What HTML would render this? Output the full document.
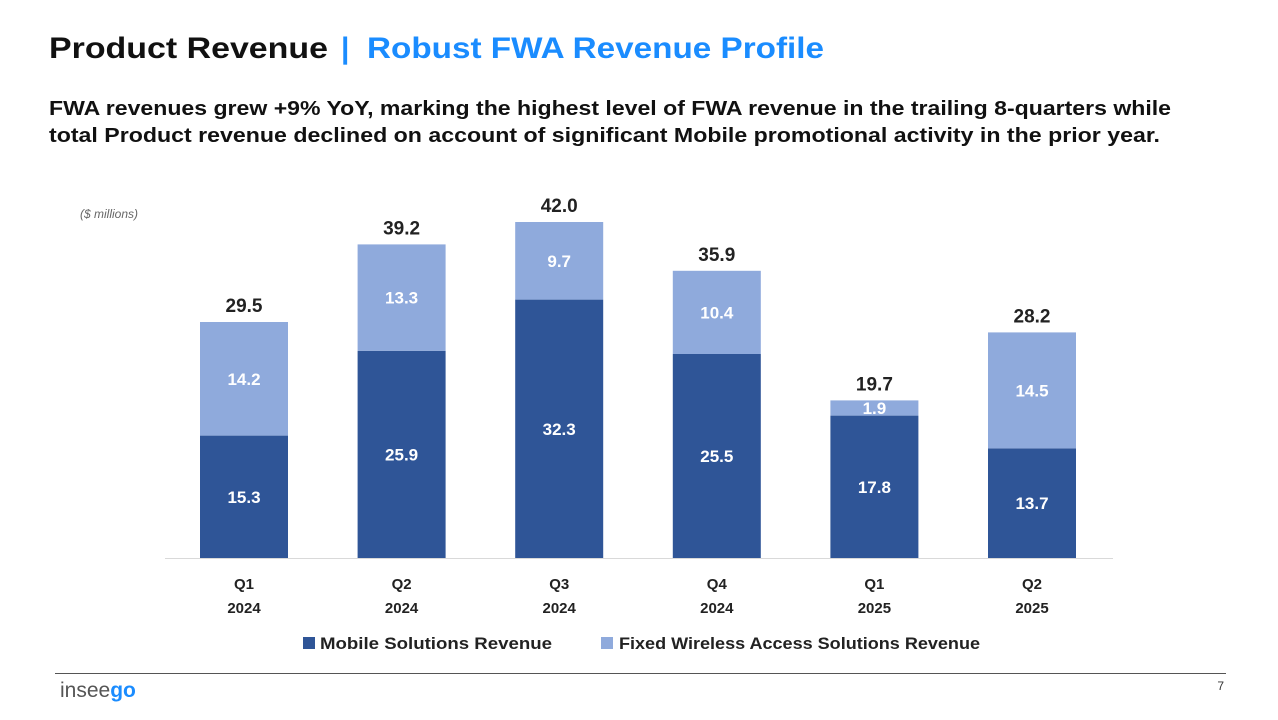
<!DOCTYPE html>
<html><head><meta charset="utf-8"><style>
html,body{margin:0;padding:0;background:#fff;}
svg{display:block;font-family:"Liberation Sans",sans-serif;}
</style></head><body>
<svg id="chart" width="1278" height="720" viewBox="0 0 1278 720">
<text x="49" y="58" font-size="30" font-weight="bold" fill="#111" textLength="279" lengthAdjust="spacingAndGlyphs">Product Revenue</text>
<text x="341" y="58" font-size="30" font-weight="bold" fill="#1A8CFF">|</text>
<text x="367" y="58" font-size="30" font-weight="bold" fill="#1A8CFF" textLength="457" lengthAdjust="spacingAndGlyphs">Robust FWA Revenue Profile</text>
<text x="49" y="115" font-size="20" font-weight="bold" fill="#111" textLength="1122" lengthAdjust="spacingAndGlyphs">FWA revenues grew +9% YoY, marking the highest level of FWA revenue in the trailing 8-quarters while</text>
<text x="49" y="142" font-size="20" font-weight="bold" fill="#111" textLength="1111" lengthAdjust="spacingAndGlyphs">total Product revenue declined on account of significant Mobile promotional activity in the prior year.</text>
<text x="80" y="218" font-size="12" font-style="italic" fill="#666">($ millions)</text>
<line x1="165" y1="558.5" x2="1113" y2="558.5" stroke="#d9d9d9" stroke-width="1"/>
<g id="bars"></g>
<rect x="303" y="637" width="12" height="12" fill="#2F5597"/>
<text x="320" y="649" font-size="17" font-weight="bold" fill="#222" textLength="232" lengthAdjust="spacingAndGlyphs">Mobile Solutions Revenue</text>
<rect x="601" y="637" width="12" height="12" fill="#8FAADC"/>
<text x="619" y="649" font-size="17" font-weight="bold" fill="#222" textLength="361" lengthAdjust="spacingAndGlyphs">Fixed Wireless Access Solutions Revenue</text>
<line x1="55" y1="673.5" x2="1226" y2="673.5" stroke="#555" stroke-width="1"/>
<text x="60" y="697" font-size="21" fill="#555">insee<tspan fill="#1A8CFF" font-weight="bold">go</tspan></text>
<text x="1224" y="690" font-size="12" fill="#333" text-anchor="end">7</text>
</svg>
<script>
const quarters = ["Q1","Q2","Q3","Q4","Q1","Q2"];
const years = ["2024","2024","2024","2024","2025","2025"];
const mobile = [15.3,25.9,32.3,25.5,17.8,13.7];
const fwa = [14.2,13.3,9.7,10.4,1.9,14.5];
const totals = ["29.5","39.2","42.0","35.9","19.7","28.2"];
const NS="http://www.w3.org/2000/svg";
const base=558, scale=8, x0=244, step=157.6, bw=88;
const xc=i=>x0+i*step;
const y=v=>base-v*scale;
const g=document.getElementById('bars');
function mk(tag,attrs,txt){const e=document.createElementNS(NS,tag);for(const k in attrs)e.setAttribute(k,attrs[k]);if(txt!==undefined)e.textContent=txt;g.appendChild(e);return e;}
for(let i=0;i<mobile.length;i++){
  const m=mobile[i],f=fwa[i];
  const r1=mk('rect',{x:xc(i)-bw/2,y:y(m),width:bw,height:m*scale,fill:'#2F5597'});
  
  
  const r2=mk('rect',{x:xc(i)-bw/2,y:y(m+f),width:bw,height:f*scale,fill:'#8FAADC'});
  
  
  const t1=mk('text',{x:xc(i),y:(y(m)+base)/2+6,'font-size':17,'font-weight':'bold',fill:'#fff','text-anchor':'middle'},m.toFixed(1));
  
  
  const t2=mk('text',{x:xc(i),y:(y(m+f)+y(m))/2+6,'font-size':17,'font-weight':'bold',fill:'#fff','text-anchor':'middle'},f.toFixed(1));
  
  
  const t3=mk('text',{x:xc(i),y:y(m+f)-10,'font-size':19,'font-weight':'bold',fill:'#222','text-anchor':'middle'},totals[i]);
  
  
  const t4=mk('text',{x:xc(i),y:589,'font-size':15,'font-weight':'bold',fill:'#222','text-anchor':'middle'},quarters[i]);
  
  
  const t5=mk('text',{x:xc(i),y:613,'font-size':15,'font-weight':'bold',fill:'#222','text-anchor':'middle'},years[i]);
  
  
}
</script>
</body></html>
